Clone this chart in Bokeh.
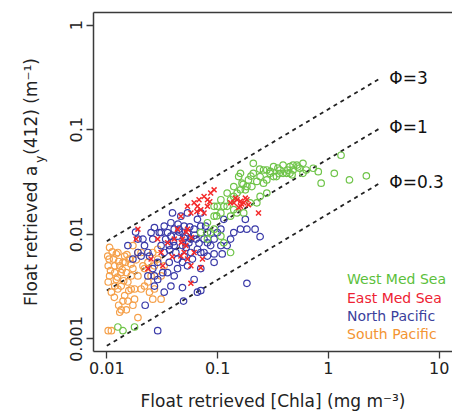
import math

from bokeh.core.properties import value
from bokeh.embed import file_html
from bokeh.models import (ColumnDataSource, CustomJSTickFormatter, FixedTicker,
                          Legend, LegendItem, LogAxis, Range1d, Title)
from bokeh.plotting import figure
from bokeh.resources import INLINE

FONT = "DejaVu Sans"
NBSP = "\u00a0"

# ---- float retrievals: [Chla] (mg m-3) and a_y(412) (m-1) per region ----
west_med_chla = [0.081, 0.093, 0.0995, 0.107, 0.114, 0.122, 0.131, 0.140, 0.150, 0.155,
                 0.166, 0.178, 0.190, 0.204, 0.210, 0.226, 0.242, 0.260, 0.278, 0.297,
                 0.320, 0.340, 0.366, 0.390, 0.420, 0.450, 0.480, 0.520, 0.550, 0.590,
                 0.630, 0.730, 0.810, 0.860, 1.13, 1.30, 1.55, 2.20, 0.210, 0.140,
                 0.098, 0.0866, 0.107, 0.131, 0.093, 0.081, 0.0705, 0.114, 0.131, 0.150,
                 0.172, 0.197, 0.242, 0.278, 0.226, 0.0126, 0.0140, 0.0178, 0.320, 0.390,
                 0.450, 0.480, 0.278, 0.184, 0.161, 0.122, 0.107, 0.140, 0.590, 0.260,
                 0.093, 0.161, 0.300, 0.350, 0.430, 0.530, 0.360, 0.470, 0.240, 0.200,
                 0.170]
west_med_ay = [0.0129, 0.0149, 0.0185, 0.0214, 0.0185, 0.0248, 0.0214, 0.0286, 0.0248, 0.0356,
               0.0308, 0.0266, 0.0331, 0.0286, 0.0383, 0.0320, 0.0356, 0.0412, 0.0331, 0.0383,
               0.0443, 0.0356, 0.0412, 0.0459, 0.0383, 0.0443, 0.0412, 0.0459, 0.0428, 0.0477,
               0.0412, 0.0428, 0.0397, 0.0308, 0.0383, 0.0570, 0.0331, 0.0362, 0.0477, 0.0172,
               0.0150, 0.0104, 0.0096, 0.0149, 0.0112, 0.0090, 0.0104, 0.0083, 0.0067, 0.0160,
               0.0160, 0.0200, 0.0230, 0.0248, 0.0200, 0.0013, 0.0012, 0.0013, 0.0356, 0.0383,
               0.0383, 0.0459, 0.0412, 0.0286, 0.0266, 0.0185, 0.0160, 0.0230, 0.0383, 0.0308,
               0.0185, 0.0383, 0.0400, 0.0430, 0.0410, 0.0440, 0.0380, 0.0370, 0.0420, 0.0360,
               0.0300]

east_med_chla = [0.0466, 0.0535, 0.0574, 0.0614, 0.0680, 0.0755, 0.0810, 0.0866, 0.0930, 0.0705,
                 0.0755, 0.0810, 0.140, 0.150, 0.161, 0.172, 0.184, 0.190, 0.161, 0.145,
                 0.234, 0.0574, 0.0705, 0.0730, 0.0574, 0.0535, 0.0499, 0.0482, 0.0406, 0.0354,
                 0.0309, 0.0288, 0.0191, 0.0184, 0.0320, 0.0466, 0.0517, 0.0614, 0.0435, 0.0535,
                 0.0251, 0.0235, 0.131, 0.178, 0.0658, 0.052, 0.047, 0.058, 0.039, 0.065,
                 0.085, 0.165, 0.155]
east_med_ay = [0.0149, 0.0185, 0.0160, 0.0200, 0.0214, 0.0230, 0.0214, 0.0248, 0.0266, 0.0172,
               0.0160, 0.0185, 0.0200, 0.0214, 0.0207, 0.0200, 0.0214, 0.0192, 0.0185, 0.0222,
               0.0160, 0.0034, 0.0048, 0.0058, 0.0050, 0.0058, 0.0067, 0.0090, 0.0090, 0.0083,
               0.0067, 0.0090, 0.0112, 0.0090, 0.0050, 0.0062, 0.0078, 0.0067, 0.0112, 0.0112,
               0.0058, 0.0047, 0.0200, 0.0222, 0.0185, 0.0105, 0.0083, 0.0093, 0.0061, 0.0165,
               0.0205, 0.0195, 0.0180]

north_pac_chla = [0.0182, 0.0191, 0.0219, 0.0204, 0.0243, 0.0269, 0.0298, 0.0330, 0.0354, 0.0379,
                  0.0406, 0.0435, 0.0466, 0.0499, 0.0535, 0.0574, 0.0614, 0.0658, 0.0705, 0.0755,
                  0.0810, 0.0866, 0.0658, 0.0593, 0.0535, 0.0482, 0.0420, 0.0366, 0.0330, 0.0288,
                  0.0260, 0.0235, 0.0354, 0.0379, 0.0330, 0.0269, 0.0288, 0.0482, 0.0658, 0.0705,
                  0.0493, 0.0222, 0.0288, 0.0705, 0.0810, 0.0930, 0.110, 0.122, 0.131, 0.140,
                  0.107, 0.114, 0.161, 0.178, 0.184, 0.218, 0.242, 0.184, 0.0930, 0.0755,
                  0.0435, 0.0614, 0.0406, 0.0309, 0.0260, 0.0392, 0.0535, 0.0705, 0.0450, 0.0517,
                  0.0550, 0.0482, 0.0379, 0.0340, 0.0309, 0.0406, 0.0640, 0.0705, 0.0574, 0.0499,
                  0.0435, 0.0366, 0.0320, 0.0269, 0.0235, 0.0212, 0.0191, 0.0172, 0.0155, 0.0251,
                  0.0810, 0.0930, 0.0995, 0.107, 0.0780, 0.045, 0.050, 0.056, 0.040, 0.062,
                  0.037, 0.068, 0.044, 0.052]
north_pac_ay = [0.0105, 0.0090, 0.0078, 0.0062, 0.0062, 0.0116, 0.0104, 0.0120, 0.0104, 0.0129,
                0.0112, 0.0096, 0.0149, 0.0120, 0.0104, 0.0090, 0.0112, 0.0139, 0.0120, 0.0090,
                0.0104, 0.0078, 0.0072, 0.0058, 0.0050, 0.0054, 0.0067, 0.0078, 0.0067, 0.0054,
                0.0047, 0.0040, 0.0043, 0.0032, 0.0028, 0.0032, 0.0037, 0.0031, 0.0028, 0.0029,
                0.0023, 0.0021, 0.0012, 0.0047, 0.0062, 0.0065, 0.0065, 0.0078, 0.0090, 0.0104,
                0.0112, 0.0139, 0.0112, 0.0139, 0.0112, 0.0112, 0.0095, 0.0034, 0.0054, 0.0067,
                0.0047, 0.0037, 0.0040, 0.0078, 0.0090, 0.0160, 0.0160, 0.0160, 0.0112, 0.0096,
                0.0083, 0.0078, 0.0096, 0.0090, 0.0104, 0.0078, 0.0090, 0.0067, 0.0067, 0.0062,
                0.0058, 0.0054, 0.0043, 0.0040, 0.0067, 0.0090, 0.0067, 0.0058, 0.0078, 0.0104,
                0.0083, 0.0090, 0.0104, 0.0078, 0.0120, 0.0105, 0.0092, 0.0118, 0.0085, 0.0098,
                0.0071, 0.0082, 0.0125, 0.0075]

south_pac_chla = [0.0106, 0.0122, 0.0145, 0.0103, 0.0118, 0.0131, 0.0147, 0.0160, 0.0172, 0.0191,
                  0.0103, 0.0122, 0.0135, 0.0155, 0.0178, 0.0110, 0.0140, 0.0150, 0.0131, 0.0155,
                  0.0178, 0.0191, 0.0204, 0.0219, 0.0235, 0.0269, 0.0251, 0.0269, 0.0288, 0.0103,
                  0.0110, 0.0172, 0.0191, 0.0212, 0.0235, 0.0260, 0.0288, 0.0309, 0.0135, 0.0118,
                  0.0166, 0.0102, 0.0115, 0.0126, 0.0140, 0.0150, 0.0166, 0.0126, 0.0106, 0.0118,
                  0.0145, 0.0172, 0.0135, 0.0204, 0.0219, 0.0243, 0.0309, 0.0330, 0.0260, 0.0105,
                  0.0112, 0.0128, 0.0138, 0.0152, 0.0165, 0.0185, 0.0108, 0.0125, 0.0142, 0.0158,
                  0.0117, 0.0128]
south_pac_ay = [0.0075, 0.0065, 0.0062, 0.0050, 0.0050, 0.0050, 0.0054, 0.0058, 0.0047, 0.0040,
                0.0035, 0.0037, 0.0032, 0.0035, 0.0030, 0.0028, 0.0023, 0.0019, 0.0018, 0.0023,
                0.0024, 0.0016, 0.0030, 0.0032, 0.0035, 0.0030, 0.0040, 0.0050, 0.0058, 0.0012,
                0.0012, 0.0078, 0.0067, 0.0050, 0.0054, 0.0067, 0.0072, 0.0024, 0.0043, 0.0043,
                0.0040, 0.0062, 0.0058, 0.0067, 0.0054, 0.0043, 0.0030, 0.0030, 0.0040, 0.0032,
                0.0026, 0.0021, 0.0019, 0.0067, 0.0047, 0.0028, 0.0040, 0.0050, 0.0024, 0.0058,
                0.0068, 0.0055, 0.0046, 0.0064, 0.0052, 0.0057, 0.0045, 0.0039, 0.0036, 0.0029,
                0.0025, 0.0021]

# ---- reference lines a_y(412) ~ Phi * [Chla]^0.63 (straight in log-log) ----
phi_labels = ["\u03a6=3", "\u03a6=1", "\u03a6=0.3"]
phi_chla = [0.01, 3.0]
phi_ay = [[0.0086, 0.314], [0.0029, 0.105], [0.00086, 0.0314]]

x_ticks = [0.01, 0.1, 1, 10]
y_ticks = [0.001, 0.01, 0.1, 1]

# region name, label colour, point colour, marker, legend marker colour
regions = [
    ("South Pacific", "#f39433", "#f5a04a", "circle", "#cfcfcf"),
    ("North Pacific", "#3b3f9c", "#3a3aa8", "circle", "#555555"),
    ("West Med Sea", "#5cbf3c", "#6fc449", "circle", "#b9b9b9"),
    ("East Med Sea", "#ee2233", "#f42a2a", "x", "#e8305a"),
]
series = {
    "South Pacific": (south_pac_chla, south_pac_ay),
    "North Pacific": (north_pac_chla, north_pac_ay),
    "West Med Sea": (west_med_chla, west_med_ay),
    "East Med Sea": (east_med_chla, east_med_ay),
}


def padded(lo, hi, frac=0.04):
    a, b = math.log10(lo), math.log10(hi)
    d = (b - a) * frac
    return 10 ** (a - d), 10 ** (b + d)


p = figure(width=452, height=413, x_axis_type="log", y_axis_type="log",
           x_range=Range1d(*padded(x_ticks[0], x_ticks[-1])),
           y_range=Range1d(*padded(y_ticks[0], y_ticks[-1])),
           output_backend="svg", toolbar_location=None,
           min_border_left=93, min_border_right=0, min_border_top=12, min_border_bottom=61)
p.outline_line_color = None
p.grid.visible = False
p.background_fill_color = "white"
p.border_fill_color = "white"

fmt = CustomJSTickFormatter(code="return tick.toString();")
AX = "#3a3a3a"
for ax, ticks in ((p.xaxis[0], x_ticks), (p.yaxis[0], y_ticks)):
    ax.ticker = FixedTicker(ticks=ticks)
    ax.formatter = fmt
    ax.axis_line_color = AX
    ax.axis_line_width = 1.5
    ax.major_tick_line_color = AX
    ax.major_tick_line_width = 1.3
    ax.major_tick_out = 7
    ax.major_tick_in = 0
    ax.minor_tick_line_color = None
    ax.major_label_text_font = FONT
    ax.major_label_text_font_size = "16px"
    ax.major_label_text_color = "#222222"
    ax.axis_label_text_font = FONT
    ax.axis_label_text_font_style = "normal"
    ax.axis_label_text_color = "#222222"

p.xaxis.major_label_standoff = 3
p.yaxis.major_label_standoff = 4
p.yaxis.major_label_orientation = "vertical"

p.xaxis.axis_label = "Float retrieved [Chla] (mg m\u207b\u00b3)"
p.xaxis.axis_label_text_font_size = "17px"
p.xaxis.axis_label_standoff = 14

# y title: the subscript y sits in the axis-label slot, shifted along the axis
p.yaxis.axis_label = NBSP * 12 + "y"
p.yaxis.axis_label_text_font_size = "12px"
p.yaxis.axis_label_standoff = 21

ytitle = Title(text="Float retrieved a" + NBSP * 2 + "(412) (m\u207b\u00b9)",
               align="center", vertical_align="bottom", standoff=-22,
               text_font=FONT, text_font_size="17px", text_font_style="normal",
               text_color="#222222")
p.add_layout(ytitle, "left")

# top edge of the box
top = LogAxis(ticker=FixedTicker(ticks=[]), axis_line_color=AX, axis_line_width=1.5,
              major_tick_line_color=None, minor_tick_line_color=None,
              major_label_text_font_size="0px")
p.add_layout(top, "above")

# Phi reference lines with labels at their upper ends
for lab, ys in zip(phi_labels, phi_ay):
    p.line(phi_chla, ys, line_color="#222222", line_width=1.8, line_dash="4 4")
    p.text(x=[phi_chla[-1]], y=[ys[-1]], text=[lab], x_offset=8, text_align="left",
           text_baseline="middle", text_font=value(FONT), text_font_size="17px",
           text_color="#111111")

# scatter of float retrievals
for name, _, col, marker, _ in regions:
    xs, ys = series[name]
    src = ColumnDataSource(dict(x=xs, y=ys))
    if marker == "x":
        p.scatter("x", "y", source=src, marker="x", size=7, line_color=col, line_width=1.5)
    else:
        p.scatter("x", "y", source=src, marker="circle", size=6.5, fill_color=None,
                  line_color=col, line_width=1.2)

# legend: one entry per row so each label keeps its own colour
legend_order = ["West Med Sea", "East Med Sea", "North Pacific", "South Pacific"]
row_y = [64, 45, 27, 9]
info = {r[0]: r for r in regions}
for name, ry in zip(legend_order, row_y):
    _, text_col, _, marker, mcol = info[name]
    if marker == "x":
        r = p.scatter(x=[], y=[], marker="x", size=7, line_color=mcol, line_width=1.5)
    else:
        r = p.scatter(x=[], y=[], marker="circle", size=6.5, fill_color=None,
                      line_color=mcol, line_width=1.2)
    lg = Legend(items=[LegendItem(label=name, renderers=[r])], location=(224, ry),
                background_fill_alpha=0, border_line_alpha=0, padding=0, margin=0,
                spacing=0, glyph_width=20, glyph_height=16, label_height=16,
                label_standoff=10, label_text_font=FONT, label_text_font_size="14px",
                label_text_color=text_col)
    p.add_layout(lg, "center")

open("out.html", "w").write(file_html(p, INLINE))
